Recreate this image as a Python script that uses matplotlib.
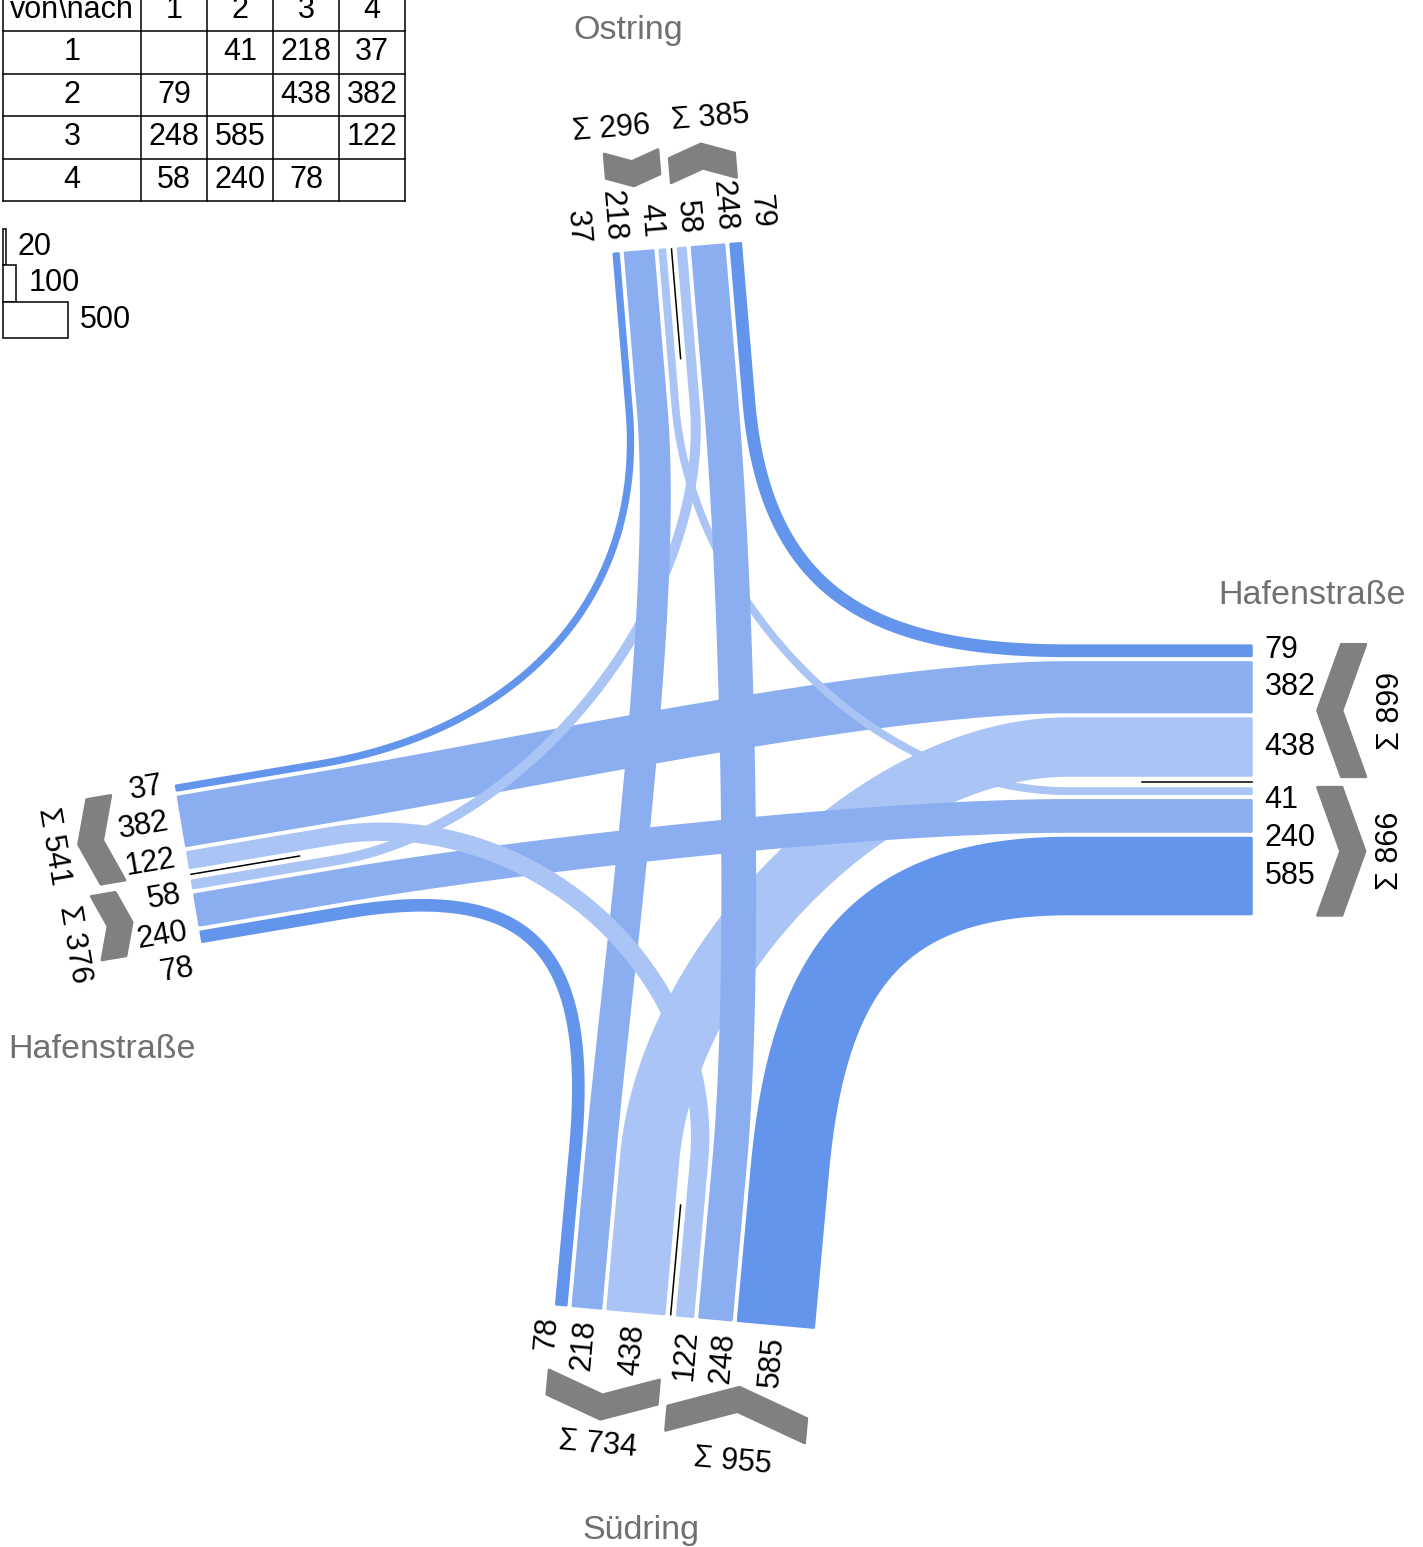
import numpy as np
import matplotlib.pyplot as plt
from matplotlib.patches import Polygon, Rectangle

plt.rcParams['font.family'] = ['Liberation Sans', 'DejaVu Sans']

# Arme: 1 Ostring (N), 2 Hafenstraße (O), 3 Südring (S), 4 Hafenstraße (W)
namen = ['Ostring', 'Hafenstraße', 'Südring', 'Hafenstraße']
nummern = ['1', '2', '3', '4']
# Strommatrix: Zeile = von, Spalte = nach, 0 = kein Strom
strom = np.array([[0, 41, 218, 37],
                  [79, 0, 438, 382],
                  [248, 585, 0, 122],
                  [58, 240, 78, 0]])
legende = [20, 100, 500]

# Lage der Arme in Pixeln: Mitte der Zufahrtskante, Richtung nach außen, gerades Stück
kante = np.array([[671.5, 249.0], [1251.5, 782.0], [670.7, 1314.7], [191.0, 874.3]])
aussen = np.array([[-0.083, -0.9965], [1.0, 0.0], [-0.090, 0.996], [-0.986, 0.166]])
aussen /= np.linalg.norm(aussen, axis=1)[:, None]
quer = np.column_stack([-aussen[:, 1], aussen[:, 0]])
gerade = [157, 183, 155, 146]
namen_pos = [(628, 30), (1312, 595), (641, 1531), (102, 1049)]

skala = 0.13      # px je Fahrzeug
luecke = 6.5
mitte = 13.0
bogen = 195.0
rand = 1.8        # Randlinie in pt
farbe = {'rechts': '#6495ED', 'gerade': '#8AAEF0', 'links': '#A9C4F5'}
grau = '#808080'
fs = 22

fig = plt.figure(figsize=(14.23, 15.47), dpi=100)
ax = fig.add_axes([0, 0, 1, 1])
ax.set_xlim(0, 1423)
ax.set_ylim(1547, 0)
ax.axis('off')


def art(i, j):
    if j == (i - 1) % 4:
        return 'rechts'
    if j == (i + 2) % 4:
        return 'gerade'
    return 'links'


# Querlage jedes Stroms an beiden Armen
s_von, s_nach = {}, {}
gruppen = []
for i in range(4):
    cur = mitte / 2
    rein = []
    for j in [(i + 1) % 4, (i + 2) % 4, (i - 1) % 4]:
        w = skala * strom[i, j]
        s_von[(i, j)] = -(cur + w / 2)
        rein.append((s_von[(i, j)], strom[i, j]))
        cur += w + luecke
    rein_rand = cur - luecke
    cur = mitte / 2
    raus = []
    for k in [(i - 1) % 4, (i + 2) % 4, (i + 1) % 4]:
        w = skala * strom[k, i]
        s_nach[(k, i)] = cur + w / 2
        raus.append((s_nach[(k, i)], strom[k, i]))
        cur += w + luecke
    raus_rand = cur - luecke
    gruppen.append((rein, rein_rand, raus, raus_rand))


def punkt(i, d, s):
    return kante[i] + d * aussen[i] + s * quer[i]


def band(i, j):
    w = skala * strom[i, j]
    a0 = punkt(i, 0, s_von[(i, j)])
    a1 = a0 - gerade[i] * aussen[i]
    b0 = punkt(j, 0, s_nach[(i, j)])
    b1 = b0 - gerade[j] * aussen[j]
    p1 = a1 - bogen * aussen[i]
    p2 = b1 - bogen * aussen[j]
    t = np.linspace(0, 1, 150)[:, None]
    kurve = (1 - t) ** 3 * a1 + 3 * (1 - t) ** 2 * t * p1 + 3 * (1 - t) * t ** 2 * p2 + t ** 3 * b1
    abl = 3 * (1 - t) ** 2 * (p1 - a1) + 6 * (1 - t) * t * (p2 - p1) + 3 * t ** 2 * (b1 - p2)
    pts = np.vstack([a0, kurve, b0])
    tan = np.vstack([-aussen[i], abl, aussen[j]])
    tan /= np.linalg.norm(tan, axis=1)[:, None]
    nor = np.column_stack([-tan[:, 1], tan[:, 0]])
    poly = np.vstack([pts + nor * w / 2, (pts - nor * w / 2)[::-1]])
    c = farbe[art(i, j)]
    ax.add_patch(Polygon(poly, closed=True, fc=c, ec=c, lw=rand, joinstyle='round'))


for i in [1, 3, 0, 2]:
    for j in [(i - 1) % 4, (i + 2) % 4, (i + 1) % 4]:
        band(i, j)

# Mittellinien
for i in range(4):
    a, b = punkt(i, 0, 0), punkt(i, -110, 0)
    ax.plot([a[0], b[0]], [a[1], b[1]], color='black', lw=1.1)


def winkel(v):
    a = np.degrees(np.arctan2(-v[1], v[0]))
    if a > 90:
        return a - 180, True
    if a <= -90:
        return a + 180, True
    return a, False


def pfeil(i, s_innen, s_aussen, nach_innen):
    """Winkelpfeil vor der Gruppe, gibt den äußersten Abstand zurück."""
    sc = (s_innen + s_aussen) / 2
    h = abs(s_aussen - s_innen) / 2
    D, T, d0 = 0.36 * h, 24.5, 66
    if nach_innen:
        lok = [(d0 + D, s_aussen), (d0, sc), (d0 + D, s_innen),
               (d0 + D + T, s_innen), (d0 + T, sc), (d0 + D + T, s_aussen)]
    else:
        lok = [(d0, s_aussen), (d0 + D, sc), (d0, s_innen),
               (d0 + T, s_innen), (d0 + D + T, sc), (d0 + T, s_aussen)]
    xy = [punkt(i, d, s) for d, s in lok]
    ax.add_patch(Polygon(xy, closed=True, fc=grau, ec=grau, lw=2, joinstyle='round'))
    return d0 + D + T


for i in range(4):
    rein, rein_rand, raus, raus_rand = gruppen[i]
    rot, umgedreht = winkel(-aussen[i])
    ha = 'left' if umgedreht else 'right'
    # Zahlen an den Strömen, bei Überdeckung nach außen geschoben
    p = None
    for s, v in rein:
        p = min(s, -18.5 if p is None else p - 37)
        x, y = punkt(i, 13, p)
        ax.text(x, y, str(v), fontsize=fs, rotation=rot, rotation_mode='anchor',
                ha=ha, va='center')
    p = None
    for s, v in raus:
        p = max(s, 18.5 if p is None else p + 37)
        x, y = punkt(i, 13, p)
        ax.text(x, y, str(v), fontsize=fs, rotation=rot, rotation_mode='anchor',
                ha=ha, va='center')

    # Richtungspfeile
    d_rein = pfeil(i, -(mitte / 2 - 1.25), -(rein_rand + 1.25), True)
    d_raus = pfeil(i, mitte / 2 - 1.25, raus_rand + 1.25, False)

    # Summen
    q_rein = -(mitte / 2 + rein_rand) / 2
    q_raus = (mitte / 2 + raus_rand) / 2
    if q_raus - q_rein < 100:
        q_rein, q_raus = min(q_rein, -50), max(q_raus, 50)
    rot_s, _ = winkel(quer[i])
    for q, d, summe in [(q_rein, d_rein, sum(v for _, v in rein)),
                        (q_raus, d_raus, sum(v for _, v in raus))]:
        x, y = punkt(i, d + 25, q)
        ax.text(x, y, 'Σ %d' % summe, fontsize=fs, rotation=rot_s, rotation_mode='anchor',
                ha='center', va='center')

    ax.text(*namen_pos[i], namen[i], fontsize=24.5, color='#707070', ha='center', va='center')

# Strommatrix als Tabelle
tab_x = [3, 141, 207, 273, 339, 405]
tab_y = [-11.5, 31, 73.5, 116, 158.5, 201]
for x in tab_x:
    ax.plot([x, x], [tab_y[0], tab_y[-1]], color='black', lw=1.1)
for y in tab_y:
    ax.plot([tab_x[0], tab_x[-1]], [y, y], color='black', lw=1.1)
kopf = ['von\\nach'] + nummern
for c in range(5):
    ax.text((tab_x[c] + tab_x[c + 1]) / 2, (tab_y[0] + tab_y[1]) / 2, kopf[c],
            fontsize=fs, ha='center', va='center')
for r in range(4):
    yc = (tab_y[r + 1] + tab_y[r + 2]) / 2
    ax.text((tab_x[0] + tab_x[1]) / 2, yc, nummern[r], fontsize=fs, ha='center', va='center')
    for c in range(4):
        if strom[r, c]:
            ax.text((tab_x[c + 1] + tab_x[c + 2]) / 2, yc, str(strom[r, c]),
                    fontsize=fs, ha='center', va='center')

# Breitenlegende
for k, v in enumerate(legende):
    y0 = 229 + 36.3 * k
    w = skala * v
    ax.add_patch(Rectangle((3.3, y0), w, 36.3, fc='white', ec='black', lw=1.1))
    ax.text(3.3 + w + 12, y0 + 18, str(v), fontsize=fs, ha='left', va='center')

fig.savefig('out.png', dpi=100)
